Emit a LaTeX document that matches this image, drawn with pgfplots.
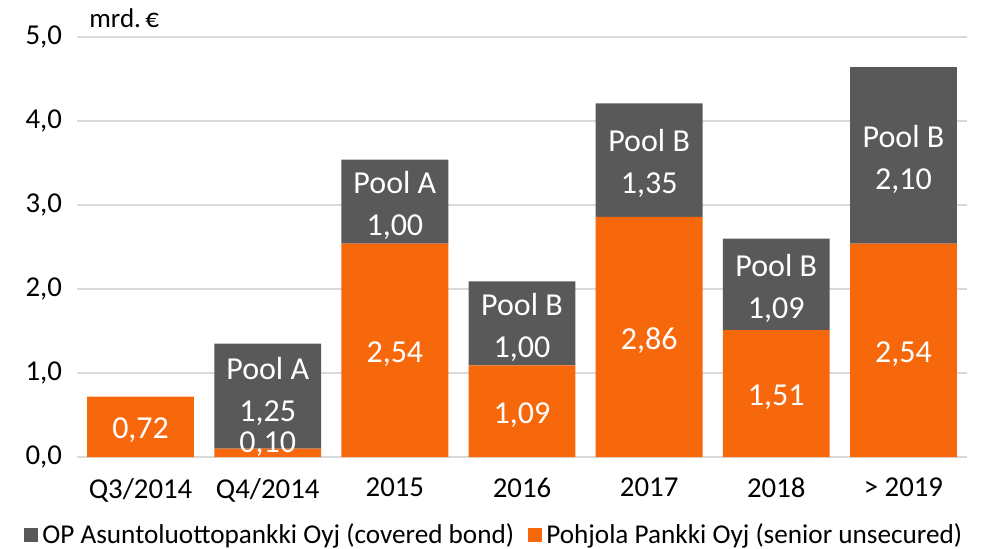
\documentclass[border=0pt]{standalone}
\usepackage{pgfplots}
\pgfplotsset{compat=1.18}
\usepackage{fontspec}
\setmainfont{Carlito}
\definecolor{oporange}{HTML}{F7680C}
\definecolor{opgray}{HTML}{595959}
\definecolor{gridc}{HTML}{D9D9D9}
\tikzset{lbl/.style={text=white, font=\fontsize{16}{21}\selectfont, align=center, yshift=-1.8pt}}
\pgfplotstableread{
x orange gray
0 0.72 0
1 0.10 1.25
2 2.54 1.00
3 1.09 1.00
4 2.86 1.35
5 1.51 1.09
6 2.54 2.10
}\datatable
\begin{document}
\begin{tikzpicture}
\begin{axis}[
  name=ax,
  scale only axis,
  width=445pt, height=210pt,
  ybar stacked,
  bar width=0.84,
  xmin=-0.5, xmax=6.5,
  ymin=0, ymax=5,
  ytick={0,1,2,3,4,5},
  yticklabels={{0,0},{1,0},{2,0},{3,0},{4,0},{5,0}},
  xtick={0,1,2,3,4,5,6},
  xticklabels={Q3/2014,Q4/2014,2015,2016,2017,2018,{> 2019}},
  major tick length=0pt,
  axis lines=left,
  x axis line style={draw=gridc, -},
  y axis line style={draw=none, -},
  ymajorgrids,
  grid style={gridc, line width=0.6pt},
  tick label style={font=\fontsize{14.4}{17}\selectfont, text=black},
  yticklabel style={xshift=-4pt},
  xticklabel style={yshift=-7pt},
  legend style={at={(0.47,-0.186)}, anchor=center, draw=none, fill=none,
    font=\fontsize{13.6}{16}\selectfont, legend columns=2,
    /tikz/every even column/.append style={column sep=5pt}},
  legend image code/.code={\draw[draw=none,#1] (0pt,-3.5pt) rectangle (7pt,3.5pt);},
  reverse legend,
  clip=false,
]
\addplot[fill=oporange, draw=none] table[x=x, y=orange] {\datatable};
\addlegendentry{Pohjola Pankki Oyj (senior unsecured)}
\addplot[fill=opgray, draw=none] table[x=x, y=gray] {\datatable};
\addlegendentry{OP Asuntoluottopankki Oyj (covered bond)}
\node[anchor=base west, font=\fontsize{13.5}{16}\selectfont] at (rel axis cs:0.006,1.022) {mrd.\,€};
\end{axis}
\begin{axis}[
  scale only axis,
  width=445pt, height=210pt,
  xmin=-0.5, xmax=6.5,
  ymin=0, ymax=5,
  hide axis,
  clip=false,
]
\node[lbl] at (axis cs:0,0.36) {0,72};
\node[lbl] at (axis cs:1,0.20) {0,10};
\node[lbl] at (axis cs:2,1.27) {2,54};
\node[lbl] at (axis cs:3,0.545) {1,09};
\node[lbl] at (axis cs:4,1.43) {2,86};
\node[lbl] at (axis cs:5,0.755) {1,51};
\node[lbl] at (axis cs:6,1.27) {2,54};
\node[lbl] at (axis cs:1,0.82) {Pool A\\1,25};
\node[lbl] at (axis cs:2,3.04) {Pool A\\1,00};
\node[lbl] at (axis cs:3,1.59) {Pool B\\1,00};
\node[lbl] at (axis cs:4,3.535) {Pool B\\1,35};
\node[lbl] at (axis cs:5,2.055) {Pool B\\1,09};
\node[lbl] at (axis cs:6,3.59) {Pool B\\2,10};
\end{axis}
\pgfresetboundingbox
\path ([shift={(-38.5pt,-45.5pt)}]ax.south west) rectangle ([shift={(8.5pt,18.5pt)}]ax.north east);
\end{tikzpicture}
\end{document}
